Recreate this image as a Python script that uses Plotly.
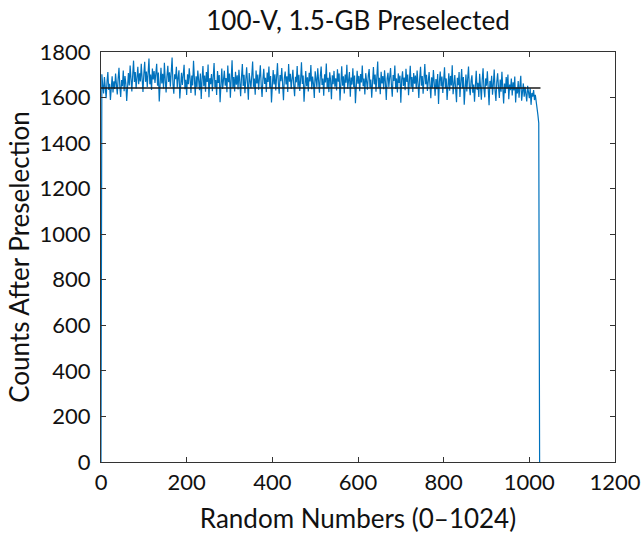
import plotly.graph_objects as go

# Random number bins (step 2) and counts after preselection
random_numbers = list(range(0, 1024, 2)) + [1024]

counts = [
    0, 1702, 1655, 1618, 1690, 1641, 1597, 1668, 1712, 1633, 1660, 1589, 1645, 1693, 1622, 1671,
    1638, 1705, 1659, 1614, 1682, 1731, 1646, 1603, 1677, 1650, 1719, 1628, 1694, 1661, 1585, 1672,
    1708, 1653, 1741, 1684, 1627, 1699, 1762, 1668, 1712, 1640, 1693, 1735, 1659, 1706, 1671, 1748,
    1682, 1625, 1703, 1757, 1669, 1714, 1646, 1690, 1771, 1658, 1701, 1633, 1727, 1679, 1716, 1664,
    1699, 1748, 1652, 1710, 1583, 1687, 1731, 1662, 1704, 1640, 1753, 1676, 1622, 1695, 1739, 1668,
    1711, 1648, 1694, 1776, 1659, 1617, 1702, 1681, 1735, 1643, 1688, 1720, 1596, 1673, 1709, 1655,
    1690, 1744, 1637, 1678, 1611, 1702, 1659, 1728, 1684, 1620, 1697, 1653, 1761, 1670, 1609, 1693,
    1647, 1719, 1675, 1632, 1706, 1594, 1681, 1738, 1650, 1697, 1626, 1712, 1668, 1745, 1601, 1685,
    1659, 1703, 1628, 1690, 1752, 1645, 1677, 1611, 1716, 1664, 1699, 1580, 1671, 1727, 1638, 1694,
    1718, 1652, 1686, 1623, 1741, 1667, 1705, 1599, 1679, 1764, 1642, 1690, 1627, 1713, 1656, 1698,
    1635, 1722, 1670, 1606, 1689, 1747, 1651, 1700, 1619, 1682, 1733, 1664, 1591, 1708, 1673, 1641,
    1696, 1758, 1647, 1683, 1612, 1719, 1662, 1701, 1634, 1688, 1742, 1655, 1603, 1680, 1726, 1660,
    1687, 1624, 1710, 1668, 1736, 1643, 1695, 1578, 1676, 1721, 1657, 1702, 1631, 1690, 1751, 1664,
    1617, 1699, 1672, 1730, 1649, 1588, 1684, 1714, 1658, 1693, 1625, 1747, 1670, 1704, 1638, 1681,
    1722, 1653, 1606, 1691, 1667, 1738, 1645, 1700, 1629, 1676, 1755, 1660, 1697, 1582, 1685, 1716,
    1650, 1689, 1627, 1709, 1671, 1743, 1637, 1692, 1660, 1598, 1715, 1679, 1646, 1728, 1663, 1621,
    1694, 1736, 1655, 1683, 1608, 1702, 1666, 1749, 1641, 1687, 1624, 1711, 1675, 1593, 1698, 1659,
    1717, 1648, 1685, 1631, 1724, 1670, 1706, 1587, 1662, 1737, 1652, 1693, 1618, 1701, 1665, 1744,
    1639, 1681, 1712, 1604, 1688, 1657, 1729, 1646, 1697, 1575, 1673, 1718, 1661, 1695, 1628, 1703,
    1666, 1741, 1650, 1684, 1613, 1707, 1672, 1634, 1696, 1725, 1644, 1679, 1599, 1690, 1734, 1658,
    1701, 1626, 1675, 1758, 1643, 1687, 1615, 1713, 1662, 1694, 1637, 1720, 1668, 1589, 1683, 1709,
    1647, 1692, 1730, 1655, 1604, 1699, 1673, 1741, 1638, 1684, 1622, 1706, 1664, 1696, 1577, 1680,
    1715, 1651, 1688, 1632, 1726, 1669, 1701, 1610, 1677, 1739, 1645, 1690, 1625, 1708, 1661, 1697,
    1640, 1719, 1663, 1598, 1685, 1735, 1652, 1694, 1617, 1679, 1747, 1658, 1700, 1629, 1672, 1712,
    1655, 1597, 1689, 1643, 1721, 1666, 1608, 1681, 1637, 1703, 1572, 1668, 1714, 1649, 1692, 1620,
    1676, 1733, 1641, 1684, 1589, 1662, 1707, 1630, 1695, 1653, 1742, 1615, 1671, 1699, 1636, 1580,
    1687, 1654, 1712, 1603, 1668, 1725, 1641, 1690, 1568, 1659, 1701, 1627, 1683, 1736, 1645, 1610,
    1672, 1698, 1621, 1657, 1582, 1689, 1718, 1634, 1665, 1603, 1704, 1648, 1591, 1677, 1729, 1639,
    1601, 1684, 1652, 1715, 1627, 1566, 1673, 1640, 1696, 1612, 1659, 1723, 1630, 1585, 1668, 1706,
    1645, 1598, 1679, 1626, 1713, 1653, 1574, 1662, 1619, 1690, 1640, 1701, 1593, 1657, 1632, 1684,
    1609, 1667, 1631, 1692, 1578, 1644, 1618, 1673, 1599, 1651, 1696, 1586, 1638, 1662, 1604, 1647,
    1615, 1583, 1652, 1629, 1597, 1641, 1568, 1620, 1604, 1633, 1589, 1612, 1572, 1561, 1524, 1488,
    0,
]

mean_x = [0, 1026]
mean_y = [1642, 1642]

x_ticks = [0, 200, 400, 600, 800, 1000, 1200]
y_ticks = [0, 200, 400, 600, 800, 1000, 1200, 1400, 1600, 1800]

FONT = "Lato"

fig = go.Figure()
fig.add_trace(go.Scatter(x=random_numbers, y=counts, mode="lines",
                         line=dict(color="#0072BD", width=1.2), showlegend=False))
fig.add_trace(go.Scatter(x=mean_x, y=mean_y, mode="lines",
                         line=dict(color="#1a1a1a", width=1.4), showlegend=False))

axis_common = dict(showgrid=False, zeroline=False, showline=True, linecolor="#333333",
                   linewidth=1.2, mirror="ticks", ticks="inside", ticklen=5,
                   tickcolor="#333333", ticklabeloverflow="allow", automargin=False,
                   tickfont=dict(family=FONT, size=22, color="#111111"))

fig.update_xaxes(range=[0, 1200], tickvals=x_ticks, **axis_common,
                 title=dict(text="Random Numbers (0–1024)",
                            font=dict(family=FONT, size=26, color="#111111"), standoff=16))
fig.update_yaxes(range=[0, 1800], tickvals=y_ticks, ticklabelstandoff=5, **axis_common,
                 title=dict(text="Counts After Preselection",
                            font=dict(family=FONT, size=26, color="#111111"), standoff=2))

fig.update_layout(
    width=641, height=534,
    margin=dict(l=101, r=26, t=52, b=72),
    paper_bgcolor="white", plot_bgcolor="white",
    title=dict(text="100-V, 1.5-GB Preselected", x=0.5, xref="paper",
               y=1 - 21 / 534, yref="container", yanchor="middle",
               font=dict(family=FONT, size=26, color="#111111")),
)

fig.write_html("out.html")
